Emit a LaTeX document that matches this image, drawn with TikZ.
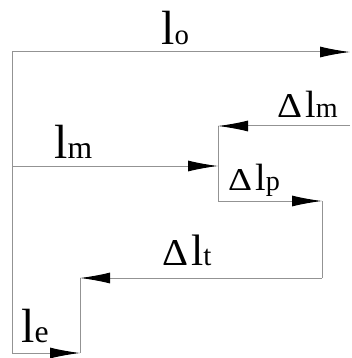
\documentclass[tikz,border=0pt]{standalone}
\usepackage{fontspec}
\setmainfont{Liberation Serif}
\usepackage{graphicx}
\usetikzlibrary{arrows.meta}

\newcommand{\lsub}[2][0.66]{\scalebox{#1}{#2}}
\newcommand{\ldelta}[2]{\resizebox{#1}{#2}{Δ}}

\tikzset{
  lenline/.style={draw=gray!85, line width=1pt},
  lenarrow/.style={lenline, -{Latex[length=30pt,width=11pt,color=black]}},
  biglab/.style={font=\fontsize{48}{48}\selectfont, inner sep=0pt, anchor=base west},
  smalllab/.style={font=\fontsize{38}{38}\selectfont, inner sep=0pt, anchor=base west},
}

\begin{document}
\begin{tikzpicture}[x=1pt,y=-1pt]
  \useasboundingbox (0,0) rectangle (351,358);
  % corners of the length chain
  \coordinate (o0) at (12,52);
  \coordinate (o1) at (350,52);
  \coordinate (m0) at (12,166);
  \coordinate (m1) at (218,166);
  \coordinate (dm0) at (350,126);
  \coordinate (dm1) at (218,126);
  \coordinate (p0) at (218,201);
  \coordinate (p1) at (322,201);
  \coordinate (t1) at (80,278);
  \coordinate (t0) at (322,278);
  \coordinate (e0) at (12,353);
  \coordinate (e1) at (80,353);
  % connecting lines
  \draw[lenline] (o0) -- (e0);
  \draw[lenline] (dm1) -- (p0);
  \draw[lenline] (p1) -- (t0);
  \draw[lenline] (t1) -- (e1);
  % arrows
  \draw[lenarrow] (o0) -- (o1);
  \draw[lenarrow] (dm0) -- (dm1);
  \draw[lenarrow] (m0) -- (m1);
  \draw[lenarrow] (p0) -- (p1);
  \draw[lenarrow] (t0) -- (t1);
  \draw[lenarrow] (e0) -- (e1);
  % labels
  \node[biglab] (lo) at (161,45) {l\lsub[0.6]{o}};
  \node[smalllab] (dlm) at (277,118) {\ldelta{25pt}{23pt}\kern3pt l\lsub[0.74]{m}};
  \node[biglab] (lm) at (54,158) {l\lsub{m}};
  \node[smalllab] (dlp) at (228,190) {\ldelta{24pt}{21pt}\kern3pt l\lsub[0.74]{p}};
  \node[biglab, font=\fontsize{44}{44}\selectfont] (dlt) at (162,265) {\ldelta{26pt}{25pt}\kern3pt l\lsub{t}};
  \node[biglab] (le) at (21,342) {l\lsub{e}};
\end{tikzpicture}
\end{document}
